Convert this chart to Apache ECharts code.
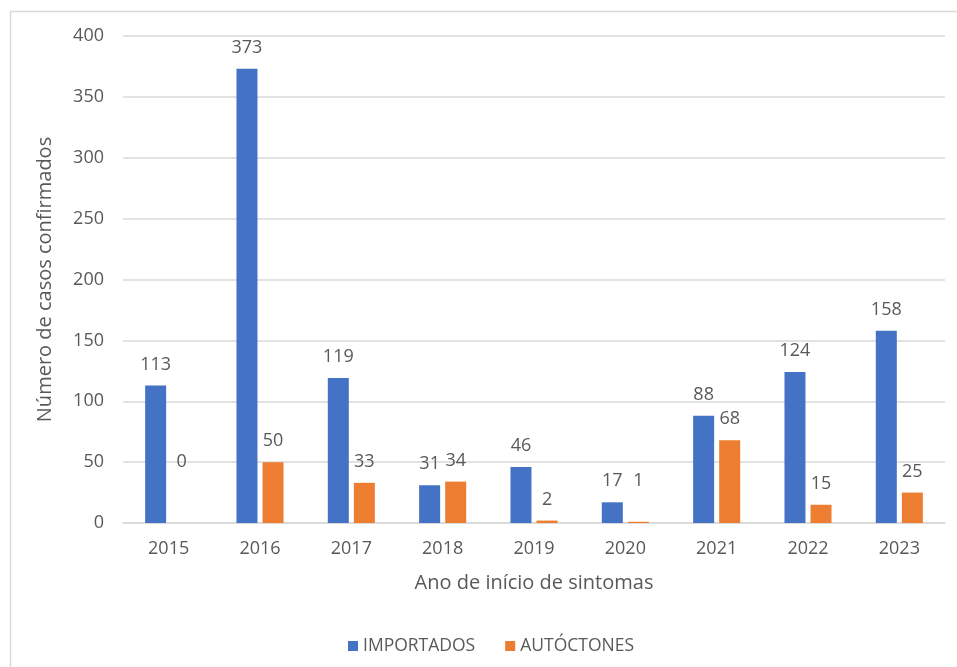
<!DOCTYPE html>
<html>
<head>
    <meta charset="utf-8" />
    <title>Casos confirmados</title>
    <script src="https://cdn.jsdelivr.net/npm/echarts@6/dist/echarts.min.js"></script>
    <style>
        html, body { margin: 0; padding: 0; background: #fff; }
    </style>
</head>
<body>
    <div id="main" style="width: 957px;height:667px;"></div>

    <script type="text/javascript">
        // dados
        var anos = ['2015', '2016', '2017', '2018', '2019', '2020', '2021', '2022', '2023'];
        var importados = [113, 373, 119, 31, 46, 17, 88, 124, 158];
        var autoctones = [0, 50, 33, 34, 2, 1, 68, 15, 25];
        var yTicks = [0, 50, 100, 150, 200, 250, 300, 350, 400];

        var fonte = '"Segoe UI", "Open Sans", "Noto Sans", sans-serif';
        var cinza = '#595959';

        // no original os rótulos dos valores pequenos ficam mais altos
        var subirRotulo = { 0: 40, 1: 20 };

        var myChart = echarts.init(document.getElementById('main'));

        var option = {
            backgroundColor: '#fff',
            textStyle: { fontFamily: fonte },
            graphic: [{
                type: 'rect',
                shape: { x: 10.5, y: 11.5, width: 960, height: 670 },
                style: { fill: 'none', stroke: '#d9d9d9', lineWidth: 1.5 },
                silent: true
            }],
            grid: { left: 123, right: 12, top: 36, bottom: 144 },
            legend: {
                data: ['IMPORTADOS', 'AUTÓCTONES'],
                left: 343,
                top: 632,
                icon: 'rect',
                itemWidth: 10,
                itemHeight: 10,
                itemGap: 30,
                textStyle: { color: cinza, fontSize: 17.5, fontFamily: fonte }
            },
            xAxis: {
                type: 'category',
                data: anos,
                name: 'Ano de início de sintomas',
                nameLocation: 'middle',
                nameGap: 50,
                nameTextStyle: { color: cinza, fontSize: 20, fontFamily: fonte },
                axisLine: { lineStyle: { color: '#d9d9d9', width: 1.5 } },
                axisTick: { show: false },
                axisLabel: { color: cinza, fontSize: 18, margin: 17, fontFamily: fonte }
            },
            yAxis: {
                type: 'value',
                min: yTicks[0],
                max: yTicks[yTicks.length - 1],
                interval: 50,
                name: 'Número de casos confirmados',
                nameLocation: 'middle',
                nameGap: 68,
                nameTextStyle: { color: cinza, fontSize: 20, fontFamily: fonte },
                axisLine: { show: false },
                axisTick: { show: false },
                axisLabel: { color: cinza, fontSize: 18, margin: 19, fontFamily: fonte },
                splitLine: { lineStyle: { color: '#d9d9d9', width: 1.5 } }
            },
            series: [
                {
                    name: 'IMPORTADOS',
                    type: 'bar',
                    data: importados,
                    barWidth: '23%',
                    barGap: '24%',
                    itemStyle: { color: '#4472C4' },
                    label: { show: true, position: 'top', distance: 12, color: cinza, fontSize: 18, fontFamily: fonte }
                },
                {
                    name: 'AUTÓCTONES',
                    type: 'bar',
                    data: autoctones.map(function (v) {
                        var item = { value: v };
                        if (subirRotulo[v] !== undefined) {
                            item.label = { offset: [0, -subirRotulo[v]] };
                        }
                        return item;
                    }),
                    barWidth: '23%',
                    itemStyle: { color: '#ED7D31' },
                    label: { show: true, position: 'top', distance: 12, color: cinza, fontSize: 18, fontFamily: fonte }
                }
            ]
        };

        myChart.setOption(option);
    </script>
</body>
</html>
